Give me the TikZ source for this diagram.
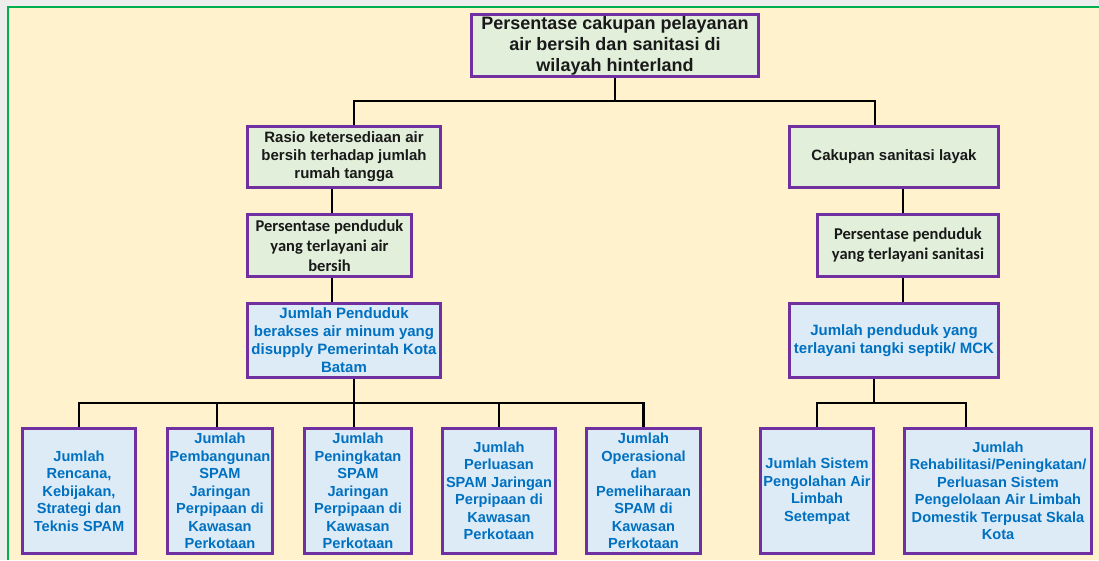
\documentclass[tikz,border=0pt]{standalone}
\usepackage{fontspec}
\setmainfont{Liberation Sans}
\newfontfamily\carlitofont{Carlito}
\definecolor{cream}{HTML}{FFF2CC}
\definecolor{boxgreen}{HTML}{E2EFDA}
\definecolor{boxblue}{HTML}{DDEBF7}
\definecolor{boxpurple}{HTML}{7030A0}
\definecolor{textblue}{HTML}{0070C0}
\definecolor{framegreen}{HTML}{00B050}
\definecolor{pagegray}{HTML}{EDEDED}
\begin{document}
\begin{tikzpicture}[x=1pt,y=-1pt,
  basebox/.style={draw=boxpurple, line width=3pt, inner sep=0pt, align=center, anchor=center},
  gbox/.style={basebox, fill=boxgreen, text=black!90, font=\bfseries\fontsize{15}{18}\selectfont},
  cbox/.style={basebox, fill=boxgreen, text=black!90, font=\carlitofont\bfseries\fontsize{16.5}{20}\selectfont},
  bbox/.style={basebox, fill=boxblue, text=textblue, font=\bfseries\fontsize{15}{18}\selectfont},
  sbox/.style={basebox, fill=boxblue, text=textblue, font=\bfseries\fontsize{14.6}{17.5}\selectfont, minimum height=125pt},
  conn/.style={draw=black, line width=2.6pt, line join=miter}]
\useasboundingbox (0,0) rectangle (1099,560);
\fill[pagegray] (0,0) rectangle (1099,560);
\fill[cream] (8,7) rectangle (1099,560);
\draw[framegreen, line width=2pt] (8,560) -- (8,7) -- (1099,7);

% level 0
\node[gbox, font=\bfseries\fontsize{18}{21}\selectfont, minimum width=287pt, minimum height=62pt] (top) at (615,45.5)
  {Persentase cakupan pelayanan\\air bersih dan sanitasi di\\wilayah hinterland};

% level 1
\node[gbox, minimum width=193pt, minimum height=61pt] (l1a) at (344,157)
  {Rasio ketersediaan air\\bersih terhadap jumlah\\rumah tangga};
\node[gbox, minimum width=209pt, minimum height=61pt] (l1b) at (894,157)
  {Cakupan sanitasi layak};

% level 2
\node[cbox, minimum width=164pt, minimum height=62pt] (l2a) at (329.5,245.5)
  {Persentase penduduk\\yang terlayani air\\bersih};
\node[cbox, minimum width=181pt, minimum height=62pt] (l2b) at (908,245.5)
  {Persentase penduduk\\yang terlayani sanitasi};

% level 3
\node[bbox, minimum width=193pt, minimum height=74pt] (l3a) at (344,340.5)
  {Jumlah Penduduk\\berakses air minum yang\\disupply Pemerintah Kota\\Batam};
\node[bbox, minimum width=209pt, minimum height=74pt] (l3b) at (894,340.5)
  {Jumlah penduduk yang\\terlayani tangki septik/ MCK};

% level 4
\node[sbox, minimum width=113pt] (b1) at (79,491)
  {Jumlah\\Rencana,\\Kebijakan,\\Strategi dan\\Teknis SPAM};
\node[sbox, minimum width=105pt] (b2) at (220,491)
  {Jumlah\\Pembangunan\\SPAM\\Jaringan\\Perpipaan di\\Kawasan\\Perkotaan};
\node[sbox, minimum width=107pt] (b3) at (358,491)
  {Jumlah\\Peningkatan\\SPAM\\Jaringan\\Perpipaan di\\Kawasan\\Perkotaan};
\node[sbox, minimum width=113pt] (b4) at (499,491)
  {Jumlah\\Perluasan\\SPAM Jaringan\\Perpipaan di\\Kawasan\\Perkotaan};
\node[sbox, minimum width=114pt] (b5) at (643.5,491)
  {Jumlah\\Operasional\\dan\\Pemeliharaan\\SPAM di\\Kawasan\\Perkotaan};
\node[sbox, minimum width=113pt] (b6) at (817,491)
  {Jumlah Sistem\\Pengolahan Air\\Limbah\\Setempat};
\node[sbox, minimum width=187pt] (b7) at (998,491)
  {Jumlah\\Rehabilitasi/Peningkatan/\\Perluasan Sistem\\Pengelolaan Air Limbah\\Domestik Terpusat Skala\\Kota};

% connectors
\coordinate (hub) at (615,101);
\draw[conn, line width=2.2pt] (top.south) -- (hub);
\draw[conn, line width=2.2pt] ([xshift=10pt]l1a.north) |- (hub) -| ([xshift=-19pt]l1b.north);
\draw[conn] ([xshift=-12pt]l1a.south) -- ([xshift=2.5pt]l2a.north);
\draw[conn] ([xshift=2.5pt]l2a.south) -- ([xshift=-12pt]l3a.north);
\draw[conn] ([xshift=9pt]l1b.south) -- ([xshift=-5pt]l2b.north);
\draw[conn] ([xshift=-5pt]l2b.south) -- ([xshift=9pt]l3b.north);

\coordinate (hb) at (354,403);
\draw[conn] ([xshift=10pt]l3a.south) -- (hb);
\draw[conn] (b1.north) |- (hb) -| (b5.north);
\draw[conn] ([xshift=-3pt]b2.north) -- ([xshift=-3pt]b2.north |- hb);
\draw[conn] ([xshift=-4pt]b3.north) -- ([xshift=-4pt]b3.north |- hb);
\draw[conn] (b4.north) -- (b4.north |- hb);

\coordinate (hr) at (874,403);
\draw[conn] ([xshift=-20pt]l3b.south) -- (hr);
\draw[conn] (b6.north) |- (hr) -| ([xshift=-32pt]b7.north);
\end{tikzpicture}
\end{document}
